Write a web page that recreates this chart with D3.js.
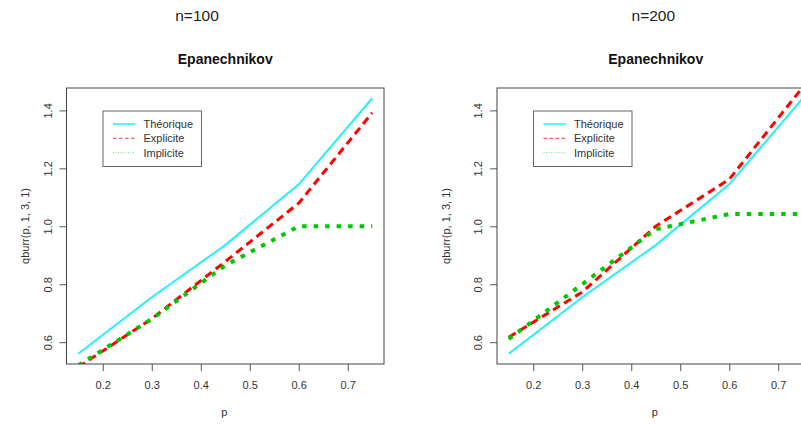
<!DOCTYPE html>
<html>
<head>
<meta charset="utf-8">
<script src="https://cdn.jsdelivr.net/npm/d3@7"></script>
<style>
  body { margin: 0; background: #fff; }
  svg { display: block; font-family: "Liberation Sans", Arial, sans-serif; }
  .axis path { display: none; }
  .axis line { stroke: #555; }
  .axis text { fill: #333; font-size: 11px; }
</style>
</head>
<body>
<div id="chart"></div>
<script>
// probability levels
const pLevels = [0.15, 0.3, 0.45, 0.6, 0.75];
// theoretical quantiles qburr(p, 1, 3, 1)
const theorique = [0.56, 0.755, 0.935, 1.145, 1.442];
// estimates, n = 100
const explicite100 = [0.514, 0.681, 0.878, 1.08, 1.392];
const implicite100 = [0.52, 0.68, 0.865, 1.0, 1.0];
// estimates, n = 200
const explicite200 = [0.617, 0.773, 1.0, 1.162, 1.48];
const implicite200 = [0.611, 0.80, 0.99, 1.042, 1.042];

const xTicks = [0.2, 0.3, 0.4, 0.5, 0.6, 0.7];
const yTicks = [0.6, 0.8, 1.0, 1.2, 1.4];
const legendLabels = ['Théorique', 'Explicite', 'Implicite'];

const W = 801, H = 425;
const svg = d3.select('#chart').append('svg').attr('width', W).attr('height', H);

const series = [
  {key: 'theo', color: '#22F2F2', width: 2, dash: null},
  {key: 'expl', color: '#FF0000', width: 3, dash: '8,5'},
  {key: 'impl', color: '#00C800', width: 4, dash: '4.5,7'}
];

function drawPanel(cfg) {
  const margin = {left: cfg.left, top: 88};
  const width = 317.5, height = 276;

  const x = d3.scaleLinear().domain([0.126, 0.774]).range([0, width]);
  const y = d3.scaleLinear().domain([0.5247, 1.4773]).range([height, 0]);

  svg.append('text')
      .attr('x', cfg.nX).attr('y', 20.5)
      .attr('text-anchor', 'middle')
      .style('font-size', '15.5px').style('fill', '#222')
      .text(cfg.n);

  const g = svg.append('g')
      .attr('transform', 'translate(' + margin.left + ',' + margin.top + ')');

  g.append('text')
      .attr('x', width / 2).attr('y', -24.5)
      .attr('text-anchor', 'middle')
      .style('font-size', '14px').style('font-weight', 'bold').style('fill', '#111')
      .text('Epanechnikov');

  g.append('defs').append('clipPath')
      .attr('id', 'clip' + cfg.id)
      .append('rect')
      .attr('width', width).attr('height', height);

  const lines = g.append('g').attr('clip-path', 'url(#clip' + cfg.id + ')');
  const line = d3.line()
      .x((d, i) => x(pLevels[i]))
      .y(d => y(d));

  const values = {theo: theorique, expl: cfg.expl, impl: cfg.impl};
  series.forEach(s => {
    lines.append('path')
        .datum(values[s.key])
        .attr('fill', 'none')
        .attr('stroke', s.color)
        .attr('stroke-width', s.width)
        .attr('stroke-dasharray', s.dash)
        .attr('d', line);
  });

  // x axis
  g.append('g')
      .attr('class', 'axis')
      .attr('transform', 'translate(0,' + height + ')')
      .call(d3.axisBottom(x).tickValues(xTicks).tickSize(7).tickPadding(10)
          .tickFormat(d3.format('.1f')));

  // y axis, labels parallel to the axis
  const yAxisG = g.append('g')
      .attr('class', 'axis')
      .call(d3.axisLeft(y).tickValues(yTicks).tickSize(7).tickFormat(d3.format('.1f')));
  yAxisG.selectAll('text')
      .attr('x', null).attr('dy', null)
      .attr('text-anchor', 'middle')
      .attr('transform', 'translate(-15,0) rotate(-90)');

  g.append('text')
      .attr('x', width / 2 - 1).attr('y', height + 52)
      .attr('text-anchor', 'middle')
      .style('font-size', '11px').style('fill', '#333')
      .text('p');

  g.append('text')
      .attr('transform', 'translate(' + cfg.yLabX + ',' + (height / 2) + ') rotate(-90)')
      .attr('text-anchor', 'middle')
      .style('font-size', '11px').style('fill', '#333')
      .text('qburr(p, 1, 3, 1)');

  g.append('rect')
      .attr('width', width).attr('height', height)
      .attr('fill', 'none').attr('stroke', '#444').attr('stroke-width', 1);

  // legend
  const lg = g.append('g').attr('transform', 'translate(36.5,23)');
  lg.append('rect')
      .attr('width', 98.5).attr('height', 55.5)
      .attr('fill', '#fff').attr('stroke', '#666').attr('stroke-width', 1);
  const legendStyle = [
    {color: '#22F2F2', width: 1.5, dash: null},
    {color: '#FF3030', width: 1, dash: '3.5,2.5'},
    {color: '#80E080', width: 1, dash: '1,1.5'}
  ];
  legendLabels.forEach((lab, i) => {
    const yy = 13 + i * 14.3;
    lg.append('line')
        .attr('x1', 10).attr('x2', 32.5)
        .attr('y1', yy).attr('y2', yy)
        .attr('stroke', legendStyle[i].color)
        .attr('stroke-width', legendStyle[i].width)
        .attr('stroke-dasharray', legendStyle[i].dash);
    lg.append('text')
        .attr('x', 40.5).attr('y', yy + 4)
        .style('font-size', '11px').style('fill', '#333')
        .text(lab);
  });
}

drawPanel({id: 1, left: 66.5, n: 'n=100', nX: 197, yLabX: -37.5,
  expl: explicite100, impl: implicite100});
drawPanel({id: 2, left: 497, n: 'n=200', nX: 653.3, yLabX: -47,
  expl: explicite200, impl: implicite200});
</script>
</body>
</html>
